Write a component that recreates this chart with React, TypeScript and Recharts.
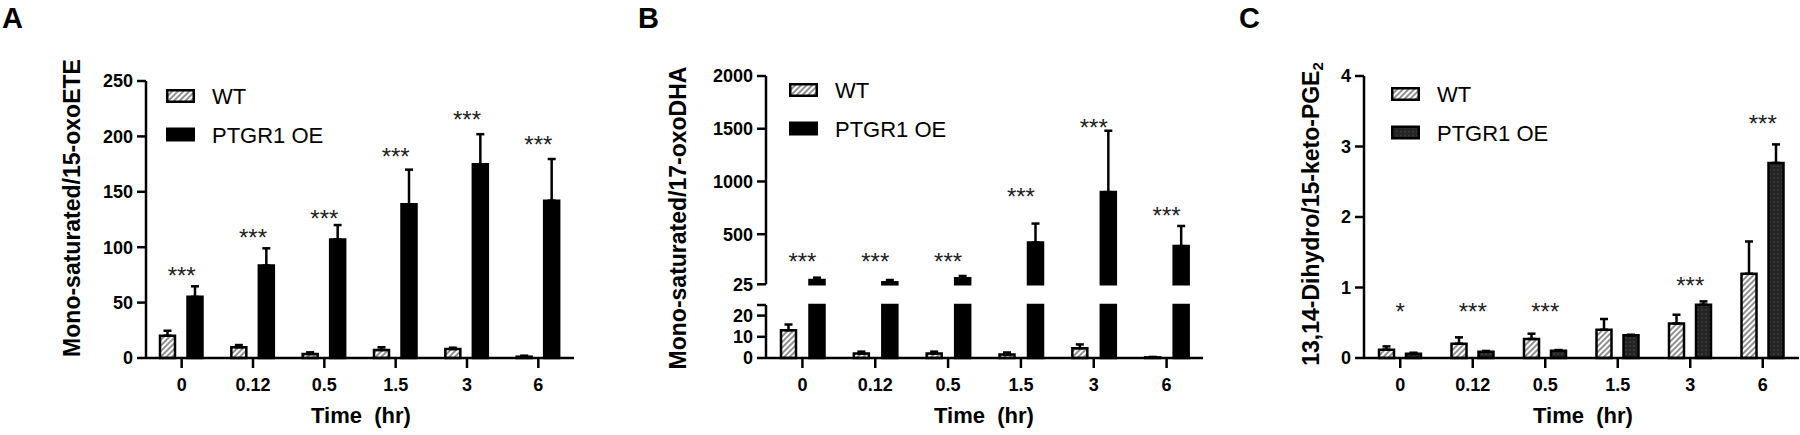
import React from "react";
import {
  BarChart,
  Bar,
  XAxis,
  YAxis,
  ErrorBar,
  ReferenceDot,
  Legend,
} from "recharts";

const FONT = "'Liberation Sans', Arial, Helvetica, sans-serif";

/* ---------- categories ---------- */
const times = ["0", "0.12", "0.5", "1.5", "3", "6"];
const seriesNames = ["WT", "PTGR1 OE"];

/* ---------- A : Mono-saturated/15-oxoETE ---------- */
const wtA = [20.1, 9.7, 3.6, 7.2, 8.1, 1.2];
const wtAErr = [4.5, 2.0, 1.5, 2.5, 1.2, 0.9];
const ptA = [55.2, 83.5, 107, 138.7, 174.8, 142];
const ptAErr = [9.5, 15.5, 13, 31.3, 27.2, 37.6];
const sigA = [79, 113, 130.5, 186.4, 220, 196.8];
const sigAText = ["***", "***", "***", "***", "***", "***"];
const ticksA = [0, 50, 100, 150, 200, 250];

/* ---------- B : Mono-saturated/17-oxoDHA (broken axis) ---------- */
const wtB = [13.1, 2.1, 2.1, 1.6, 4.6, 0.3];
const wtBErr = [2.7, 0.9, 0.9, 1.0, 1.8, 0.2];
const ptB = [66, 44, 82, 421, 899, 387];
const ptBErr = [22, 22, 22, 180, 582, 191];
const sigB = [293, 293, 293, 903, 1557, 723];
const sigBText = ["***", "***", "***", "***", "***", "***"];
const breakB = 25;
const ticksBTop = [25, 500, 1000, 1500, 2000];
const ticksBBottom = [0, 10, 20, 25];

/* ---------- C : 13,14-Dihydro/15-keto-PGE2 ---------- */
const wtC = [0.118, 0.203, 0.27, 0.4, 0.49, 1.195];
const wtCErr = [0.047, 0.09, 0.075, 0.153, 0.124, 0.458];
const ptC = [0.061, 0.09, 0.104, 0.321, 0.756, 2.767];
const ptCErr = [0.014, 0.01, 0.009, 0.009, 0.047, 0.263];
const sigC = [0.727, 0.727, 0.727, 0, 1.106, 3.4];
const sigCText = ["*", "***", "***", "", "***", "***"];
const ticksC = [0, 1, 2, 3, 4];

/* ---------- tables ---------- */
const dataA = times.map((t, i) => ({
  t,
  wt: wtA[i],
  wtE: [0, wtAErr[i]],
  pt: ptA[i],
  ptE: [0, ptAErr[i]],
}));
const dataBTop = times.map((t, i) => ({
  t,
  wt: wtB[i] >= breakB ? wtB[i] : null,
  pt: ptB[i],
  ptE: [0, ptBErr[i]],
}));
const dataBBottom = times.map((t, i) => ({
  t,
  wt: wtB[i],
  wtE: [0, wtBErr[i]],
  pt: Math.min(ptB[i], breakB),
}));
const dataC = times.map((t, i) => ({
  t,
  wt: wtC[i],
  wtE: [0, wtCErr[i]],
  pt: ptC[i],
  ptE: [0, ptCErr[i]],
}));

/* ---------- shared styles ---------- */
const line = { stroke: "#000", strokeWidth: 2.5 };
const tickStyle = { fill: "#000", fontSize: 18, fontWeight: 700, fontFamily: FONT };

const star = (s: string) => (p: any) => (
  <text
    x={p.cx}
    y={p.cy + 13.5}
    textAnchor="middle"
    fontSize={24}
    fontFamily={FONT}
    fill="#222"
  >
    {s}
  </text>
);

function LegendBox({ fills }: { fills: string[] }) {
  return (
    <svg width={200} height={60} style={{ display: "block", overflow: "visible" }}>
      {seriesNames.map((n, i) => (
        <g key={n} transform={`translate(0, ${i * 38.5})`}>
          <rect x={1.25} y={1.25} width={26.5} height={11.5} fill={fills[i]} stroke="#000" strokeWidth={2.5} />
          <text x={46} y={15} fontSize={22} fontFamily={FONT} fill="#000">
            {n}
          </text>
        </g>
      ))}
    </svg>
  );
}

const xProps = {
  dataKey: "t",
  interval: 0 as const,
  tickSize: 10,
  tickMargin: 10,
  height: 77,
  axisLine: line,
  tickLine: line,
  tick: tickStyle,
};
const yProps = {
  type: "number" as const,
  interval: 0 as const,
  tickSize: 9,
  tickMargin: 4,
  axisLine: line,
  tickLine: line,
  tick: tickStyle,
};

export default function App() {
  return (
    <div style={{ position: "relative", width: 1800, height: 435, background: "#fff", fontFamily: FONT }}>
      <style>{"body{margin:0}"}</style>
      <svg width={0} height={0} style={{ position: "absolute" }}>
        <defs>
          <pattern id="hatch" patternUnits="userSpaceOnUse" width={4} height={4} patternTransform="rotate(45)">
            <rect width={4} height={4} fill="#fff" />
            <line x1={2} y1={0} x2={2} y2={4} stroke="#555" strokeWidth={1.3} />
          </pattern>
          <pattern id="dots" patternUnits="userSpaceOnUse" width={4} height={4}>
            <rect width={4} height={4} fill="#242424" />
            <circle cx={2} cy={2} r={0.7} fill="#555" />
          </pattern>
        </defs>
      </svg>

      {/* ---------- A ---------- */}
      <div style={{ position: "absolute", left: 0, top: 0 }}>
        <BarChart width={600} height={435} data={dataA} margin={{ top: 81, right: 26, bottom: 0, left: 0 }} barSize={15} barGap={12.5}>
          <XAxis {...xProps} />
          <YAxis {...yProps} width={146} domain={[0, 250]} ticks={ticksA} />
          <Bar dataKey="wt" fill="url(#hatch)" stroke="#000" strokeWidth={2.5} isAnimationActive={false}>
            <ErrorBar dataKey="wtE" direction="y" width={4} stroke="#000" strokeWidth={2.5} />
          </Bar>
          <Bar dataKey="pt" fill="#000" stroke="#000" strokeWidth={2.5} isAnimationActive={false}>
            <ErrorBar dataKey="ptE" direction="y" width={4} stroke="#000" strokeWidth={2.5} />
          </Bar>
          {times.map((t, i) =>
            sigAText[i] ? <ReferenceDot key={t} x={t} y={sigA[i]} r={0} shape={star(sigAText[i])} ifOverflow="visible" /> : null
          )}
          <Legend
            layout="vertical"
            align="center"
            verticalAlign="middle"
            wrapperStyle={{ left: 166, top: 89, width: 200, height: 60 }}
            content={() => <LegendBox fills={["url(#hatch)", "#000"]} />}
          />
        </BarChart>
      </div>

      {/* ---------- B top ---------- */}
      <div style={{ position: "absolute", left: 600, top: 0 }}>
        <BarChart width={610} height={300} data={dataBTop} margin={{ top: 76, right: 7, bottom: 15.7, left: 0 }} barSize={15} barGap={13.5}>
          <XAxis dataKey="t" hide />
          <YAxis {...yProps} width={166} domain={[breakB, 2000]} ticks={ticksBTop} />
          <Bar dataKey="wt" fill="url(#hatch)" stroke="#000" strokeWidth={2.5} isAnimationActive={false} />
          <Bar dataKey="pt" fill="#000" stroke="#000" strokeWidth={2.5} isAnimationActive={false}>
            <ErrorBar dataKey="ptE" direction="y" width={4} stroke="#000" strokeWidth={2.5} />
          </Bar>
          {times.map((t, i) =>
            sigBText[i] ? <ReferenceDot key={t} x={t} y={sigB[i]} r={0} shape={star(sigBText[i])} ifOverflow="visible" /> : null
          )}
          <Legend
            layout="vertical"
            align="center"
            verticalAlign="middle"
            wrapperStyle={{ left: 189, top: 83, width: 200, height: 60 }}
            content={() => <LegendBox fills={["url(#hatch)", "#000"]} />}
          />
        </BarChart>
      </div>

      {/* ---------- B bottom ---------- */}
      <div style={{ position: "absolute", left: 600, top: 295 }}>
        <BarChart width={610} height={140} data={dataBBottom} margin={{ top: 10, right: 7, bottom: 0, left: 0 }} barSize={15} barGap={13.5}>
          <XAxis {...xProps} />
          <YAxis
            {...yProps}
            width={166}
            domain={[0, breakB]}
            ticks={ticksBBottom}
            tickFormatter={(v: number) => (v === breakB ? "" : String(v))}
          />
          <Bar dataKey="wt" fill="url(#hatch)" stroke="#000" strokeWidth={2.5} isAnimationActive={false}>
            <ErrorBar dataKey="wtE" direction="y" width={4} stroke="#000" strokeWidth={2.5} />
          </Bar>
          <Bar dataKey="pt" fill="#000" stroke="#000" strokeWidth={2.5} isAnimationActive={false} />
        </BarChart>
      </div>

      {/* ---------- C ---------- */}
      <div style={{ position: "absolute", left: 1200, top: 0 }}>
        <BarChart width={600} height={435} data={dataC} margin={{ top: 76, right: 1, bottom: 0, left: 0 }} barSize={15} barGap={12}>
          <XAxis {...xProps} />
          <YAxis {...yProps} width={164} domain={[0, 4]} ticks={ticksC} />
          <Bar dataKey="wt" fill="url(#hatch)" stroke="#000" strokeWidth={2.5} isAnimationActive={false}>
            <ErrorBar dataKey="wtE" direction="y" width={4} stroke="#000" strokeWidth={2.5} />
          </Bar>
          <Bar dataKey="pt" fill="url(#dots)" stroke="#000" strokeWidth={2.5} isAnimationActive={false}>
            <ErrorBar dataKey="ptE" direction="y" width={4} stroke="#000" strokeWidth={2.5} />
          </Bar>
          {times.map((t, i) =>
            sigCText[i] ? <ReferenceDot key={t} x={t} y={sigC[i]} r={0} shape={star(sigCText[i])} ifOverflow="visible" /> : null
          )}
          <Legend
            layout="vertical"
            align="center"
            verticalAlign="middle"
            wrapperStyle={{ left: 191, top: 87, width: 200, height: 60 }}
            content={() => <LegendBox fills={["url(#hatch)", "url(#dots)"]} />}
          />
        </BarChart>
      </div>

      {/* ---------- titles ---------- */}
      <svg width={1800} height={435} style={{ position: "absolute", left: 0, top: 0, pointerEvents: "none" }}>
        <g fontFamily={FONT} fontWeight={700} fill="#000">
          <text x={2} y={28} fontSize={29}>A</text>
          <text x={638} y={28} fontSize={29}>B</text>
          <text x={1239} y={28} fontSize={29}>C</text>

          <text transform="translate(72,208) rotate(-90)" textAnchor="middle" dominantBaseline="central" fontSize={23}>
            Mono-saturated/15-oxoETE
          </text>
          <text transform="translate(678,218) rotate(-90)" textAnchor="middle" dominantBaseline="central" fontSize={23}>
            Mono-saturated/17-oxoDHA
          </text>
          <text transform="translate(1311,214) rotate(-90)" textAnchor="middle" dominantBaseline="central" fontSize={23}>
            <tspan>13,14-Dihydro/15-keto-PGE</tspan>
            <tspan fontSize={15} dy={6}>2</tspan>
          </text>

          <text x={361} y={423} textAnchor="middle" fontSize={22}>{"Time\u00a0\u00a0(hr)"}</text>
          <text x={984} y={423} textAnchor="middle" fontSize={22}>{"Time\u00a0\u00a0(hr)"}</text>
          <text x={1583} y={423} textAnchor="middle" fontSize={22}>{"Time\u00a0\u00a0(hr)"}</text>
        </g>
      </svg>
    </div>
  );
}
